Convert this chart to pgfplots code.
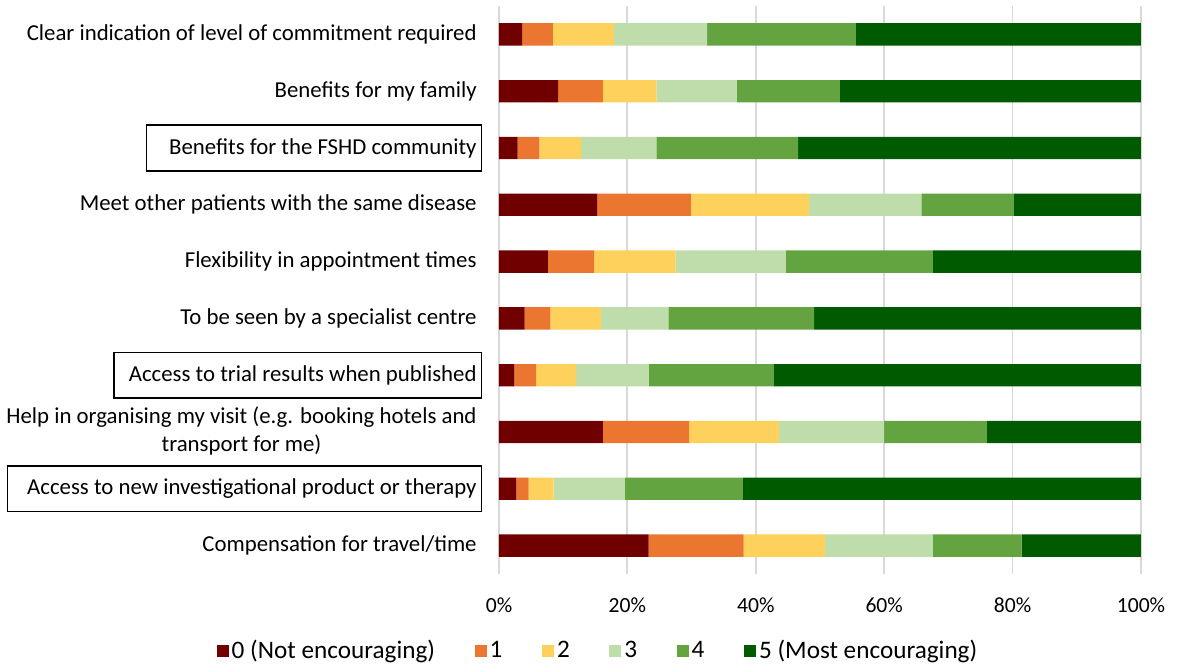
\documentclass[border=0pt]{standalone}
\usepackage{fontspec}
\setmainfont{Carlito}
\usepackage{pgfplots}
\pgfplotsset{compat=1.18}
\usepackage{pgfplotstable}
\definecolor{c0}{HTML}{700000}
\definecolor{c1}{HTML}{EB7630}
\definecolor{c2}{HTML}{FED05C}
\definecolor{c3}{HTML}{BFDCAB}
\definecolor{c4}{HTML}{63A440}
\definecolor{c5}{HTML}{005A00}
\definecolor{gridc}{HTML}{D9D9D9}
\pgfplotstableread{
y s0 s1 s2 s3 s4 s5
0 3.6 4.8 9.5 14.5 23.2 44.4
1 9.2 7.0 8.3 12.5 16.1 46.9
2 2.9 3.4 6.5 11.7 22.1 53.4
3 15.3 14.6 18.4 17.5 14.4 19.8
4 7.6 7.2 12.7 17.2 22.9 32.4
5 4.0 4.0 7.9 10.5 22.7 50.9
6 2.4 3.4 6.2 11.3 19.5 57.2
7 16.2 13.4 14.0 16.4 16.0 24.0
8 2.7 1.9 3.9 11.1 18.4 62.0
9 23.3 14.8 12.7 16.8 13.8 18.6
}\data
\newcommand{\lbl}{\fontsize{11.4}{14}\selectfont}
\newcommand{\tck}{\fontsize{10.8}{13}\selectfont}
\newcommand{\lgd}{\fontsize{12.6}{15}\selectfont}
\setlength{\fboxsep}{0pt}
\setlength{\fboxrule}{0.8pt}
\newcommand{\bx}[2]{\fbox{\kern#1\rule[-8pt]{0pt}{22pt}#2\kern2pt}\kern-2.8pt}
\begin{document}
\begin{tikzpicture}
\path[use as bounding box] (-249.5pt,-45pt) rectangle (339.5pt,287pt);
\begin{axis}[
  at={(0pt,0pt)}, anchor=south west,
  scale only axis, width=321pt, height=284pt,
  xbar stacked, bar width=0.394,
  xmin=0, xmax=100, ymin=-0.5, ymax=9.5, y dir=reverse,
  xtick={0,20,...,100},
  xticklabel={\pgfmathprintnumber{\tick}\%},
  ytick={0,...,9},
  yticklabels={
    Clear indication of level of commitment required,
    Benefits for my family,
    {\bx{11pt}{Benefits for the FSHD community}},
    Meet other patients with the same disease,
    Flexibility in appointment times,
    To be seen by a specialist centre,
    {\bx{7pt}{Access to trial results when published}},
    {\begin{tabular}{@{}c@{}}Help in organising my visit (e.g. booking hotels and\\transport for me)\end{tabular}},
    {\bx{9.5pt}{Access to new investigational product or therapy}},
    Compensation for travel/time},
  xmajorgrids, major grid style={draw=gridc, line width=0.9pt},
  axis line style={draw=none}, major tick length=0pt,
  tick label style={/pgf/number format/assume math mode=true},
  xticklabel style={font=\tck, inner sep=0pt, yshift=-11.5pt},
  yticklabel style={font=\lbl, inner sep=0pt, xshift=-11pt},
  every axis plot/.append style={draw=none},
  legend image code/.code={\fill[#1] (0pt,-3.2pt) rectangle (6pt,3.2pt);},
  legend style={draw=none, fill=none, inner sep=0pt, font=\lgd,
    at={(0.155,-0.1356)}, anchor=center, legend columns=6,
    nodes={inner xsep=1.5pt, inner ysep=0pt},
    /tikz/every even column/.append style={column sep=18.3pt}},
]
\addplot[fill=c0] table[x=s0,y=y]{\data};
\addplot[fill=c1] table[x=s1,y=y]{\data};
\addplot[fill=c2] table[x=s2,y=y]{\data};
\addplot[fill=c3] table[x=s3,y=y]{\data};
\addplot[fill=c4] table[x=s4,y=y]{\data};
\addplot[fill=c5] table[x=s5,y=y]{\data};
\legend{0 (Not encouraging),1,2,3,4,5 (Most encouraging)}
\end{axis}
\end{tikzpicture}
\end{document}
